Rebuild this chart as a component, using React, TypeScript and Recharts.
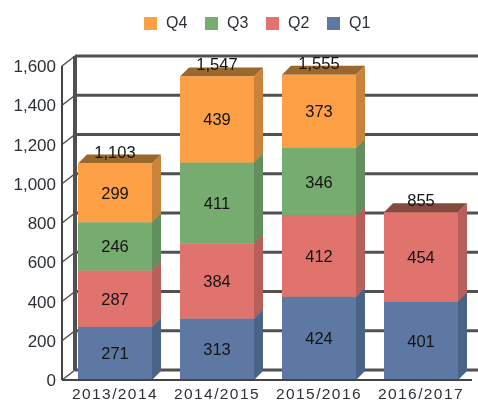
import { ComposedChart, Bar, Line, XAxis, YAxis, CartesianGrid, Legend, LabelList } from 'recharts';

const years = ['2013/2014', '2014/2015', '2015/2016', '2016/2017'];
const q1 = [271, 313, 424, 401];
const q2 = [287, 384, 412, 454];
const q3 = [246, 411, 346, null];
const q4 = [299, 439, 373, null];
const totals = [1103, 1547, 1555, 855];
const yTicks = [0, 200, 400, 600, 800, 1000, 1200, 1400, 1600];

const data = years.map((year, i) => ({ year, q1: q1[i], q2: q2[i], q3: q3[i], q4: q4[i], total: totals[i] }));

const font = '"Liberation Sans", sans-serif';
const textColor = '#2b3038';
const wallColor = '#505050';
const depthX = 13;
const depthY = 10;
const barDepthX = 9;
const barDepthY = 9;

function Block3D(props: any) {
    const { x, y, width, height, fill, side, top } = props;
    if (!height) return null;
    const right = x + width;
    return (
        <g>
            <polygon
                points={`${x},${y} ${x + barDepthX},${y - barDepthY} ${right + barDepthX},${y - barDepthY} ${right},${y}`}
                fill={top}
            />
            <polygon
                points={`${right},${y} ${right + barDepthX},${y - barDepthY} ${right + barDepthX},${y + height - barDepthY} ${right},${y + height}`}
                fill={side}
            />
            <rect x={x} y={y} width={width} height={height} fill={fill} />
        </g>
    );
}

function BackLine(props: any) {
    const { x, y, width, height, y1 } = props;
    return (
        <g>
            <line x1={x + depthX} y1={y1 - depthY} x2={x + width + depthX} y2={y1 - depthY} stroke={wallColor} strokeWidth={3} />
            <line x1={x} y1={y1} x2={x + depthX} y2={y1 - depthY} stroke={wallColor} strokeWidth={1.5} />
            <line x1={x + depthX} y1={y1 - depthY} x2={x + depthX} y2={y + height - depthY} stroke={wallColor} strokeWidth={4} />
        </g>
    );
}

function LegendBox({ payload }: any) {
    const items = [...(payload || [])].filter((item: any) => item.value !== 'total').reverse();
    return (
        <div style={{ display: 'flex', paddingLeft: 144 }}>
            {items.map((item: any) => (
                <div key={item.value} style={{ width: 61, display: 'flex', alignItems: 'center', height: 16 }}>
                    <span style={{ width: 13, height: 13, background: item.color, marginRight: 9 }} />
                    <span style={{ fontFamily: font, fontSize: 16, color: textColor }}>{item.value}</span>
                </div>
            ))}
        </div>
    );
}

const seriesLabel = { fill: '#141414', fontFamily: font, fontSize: 16.5 };

export default function App() {
    return (
        <div style={{ position: 'absolute', left: 0, top: 0, width: 478, height: 403, background: '#fff', filter: 'blur(0.4px)' }}>
            <ComposedChart width={478} height={403} data={data} margin={{ top: 50, right: 6, bottom: 0, left: 0 }}>
                <CartesianGrid vertical={false} horizontal={(p: any) => <BackLine key={p.index} {...p} />} syncWithTicks />
                <XAxis
                    dataKey="year"
                    padding={{ left: 2, right: 0 }}
                    height={23}
                    tickLine={false}
                    axisLine={{ stroke: '#444444', strokeWidth: 2 }}
                    tick={{ fill: textColor, fontFamily: font, fontSize: 15.5, letterSpacing: 1.4 }}
                    tickMargin={2}
                    interval={0}
                />
                <YAxis
                    width={62}
                    domain={[0, 1600]}
                    ticks={yTicks}
                    tickFormatter={(v: number) => v.toLocaleString('en-US')}
                    tickLine={false}
                    axisLine={{ stroke: '#444444', strokeWidth: 2 }}
                    tick={{ fill: textColor, fontFamily: font, fontSize: 17 }}
                    tickMargin={0}
                />
                <Legend verticalAlign="top" content={<LegendBox />} wrapperStyle={{ top: 15, left: 0, width: 478 }} />
                <Bar dataKey="q1" name="Q1" stackId="a" barSize={74} fill="#5d79a3" isAnimationActive={false}
                    shape={(p: any) => <Block3D {...p} side="#4a6488" top="#3f5673" />}>
                    <LabelList dataKey="q1" position="center" {...seriesLabel} />
                </Bar>
                <Bar dataKey="q2" name="Q2" stackId="a" barSize={74} fill="#e0736e" isAnimationActive={false}
                    shape={(p: any) => <Block3D {...p} side="#b75f5a" top="#84493f" />}>
                    <LabelList dataKey="q2" position="center" {...seriesLabel} />
                </Bar>
                <Bar dataKey="q3" name="Q3" stackId="a" barSize={74} fill="#76ac70" isAnimationActive={false}
                    shape={(p: any) => <Block3D {...p} side="#618f5d" top="#4f7a4b" />}>
                    <LabelList dataKey="q3" position="center" {...seriesLabel} />
                </Bar>
                <Bar dataKey="q4" name="Q4" stackId="a" barSize={74} fill="#fda045" isAnimationActive={false}
                    shape={(p: any) => <Block3D {...p} side="#c9833a" top="#9a682a" />}>
                    <LabelList dataKey="q4" position="center" {...seriesLabel} />
                </Bar>
                <Line dataKey="total" stroke="none" dot={false} legendType="none" isAnimationActive={false}>
                    <LabelList
                        dataKey="total"
                        position="top"
                        offset={6}
                        formatter={(v: number) => v.toLocaleString('en-US')}
                        {...seriesLabel}
                    />
                </Line>
            </ComposedChart>
        </div>
    );
}
